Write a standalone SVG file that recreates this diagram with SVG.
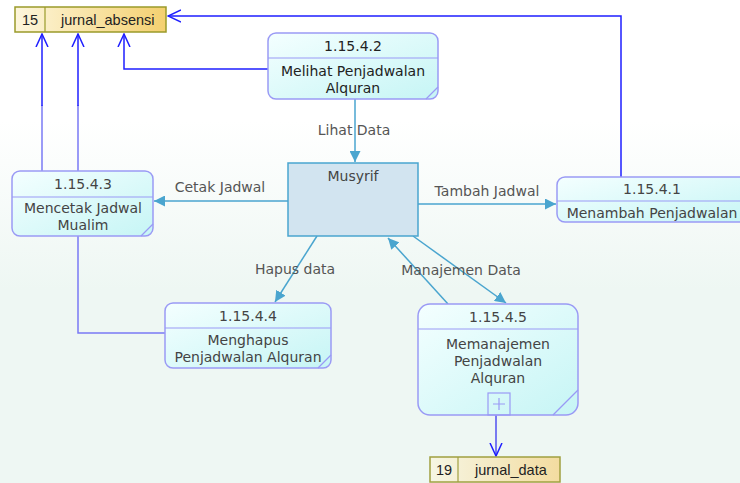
<svg xmlns="http://www.w3.org/2000/svg" width="740" height="483" viewBox="0 0 740 483">
<style>
.proc{fill:url(#pg);stroke:#9a9af5;stroke-width:1.5}
.div{stroke:#9a9af5;stroke-width:1.2}
.t{font-family:"DejaVu Sans",Verdana,sans-serif;font-size:14px;fill:#444;text-anchor:middle}
.lbl{font-family:"DejaVu Sans",Verdana,sans-serif;font-size:14px;fill:#555;text-anchor:middle}
.st{font-family:"Liberation Sans",Arial,sans-serif;font-size:14.5px;fill:#222}
.flow{stroke:#4aa5cf;stroke-width:1.5;fill:none;marker-end:url(#fa)}
.bf{stroke:#1f1fff;stroke-width:1.5;fill:none}
.bl{stroke:#7a7af5;stroke-width:1.5;fill:none}
</style>
<defs>
<linearGradient id="bg" x1="0" y1="0" x2="0" y2="1">
<stop offset="0" stop-color="#ffffff"/><stop offset="0.25" stop-color="#ffffff"/><stop offset="0.6" stop-color="#eef7f3"/><stop offset="1" stop-color="#eef7f3"/>
</linearGradient>
<linearGradient id="pg" x1="0" y1="0" x2="1" y2="1">
<stop offset="0" stop-color="#f4ffff"/><stop offset="1" stop-color="#c6f5f5"/>
</linearGradient>
<linearGradient id="sg" x1="0" y1="0" x2="1" y2="0">
<stop offset="0" stop-color="#fdf6dc"/><stop offset="1" stop-color="#f4d070"/>
</linearGradient>
<linearGradient id="sg2" x1="0" y1="0" x2="1" y2="0">
<stop offset="0" stop-color="#f6f6e4"/><stop offset="1" stop-color="#f3dca0"/>
</linearGradient>
<marker id="fa" viewBox="0 0 10 10" refX="10" refY="5" markerWidth="11" markerHeight="11" markerUnits="userSpaceOnUse" orient="auto">
<path d="M0,0 L10,5 L0,10 z" fill="#4aa5cf"/>
</marker>
<marker id="oa" viewBox="0 0 14 14" refX="13" refY="7" markerWidth="14" markerHeight="14" markerUnits="userSpaceOnUse" orient="auto">
<path d="M0,1 L13,7 L0,13" fill="none" stroke="#1f1fff" stroke-width="1.5"/>
</marker>
</defs>
<rect width="740" height="483" fill="url(#bg)"/>

<g id="connectors">
<polyline class="bf" points="621,177 621,16 168,16" marker-end="url(#oa)"/>
<polyline class="bf" points="268,69 124,69 124,34" marker-end="url(#oa)"/>
<line class="bl" x1="42" y1="171" x2="42" y2="105"/>
<line class="bf" x1="42" y1="106" x2="42" y2="34" marker-end="url(#oa)"/>
<polyline class="bl" points="165,333 78,333 78,105"/>
<line class="bf" x1="78" y1="106" x2="78" y2="34" marker-end="url(#oa)"/>
<line class="flow" x1="355" y1="99" x2="355" y2="162"/>
<line class="flow" x1="288" y1="201" x2="154" y2="201"/>
<line class="flow" x1="418" y1="204" x2="556" y2="204"/>
<line class="flow" x1="317" y1="236" x2="275" y2="302"/>
<line class="flow" x1="413" y1="236" x2="506" y2="303"/>
<line class="flow" x1="448" y1="304" x2="388" y2="238"/>
<line x1="496" y1="415" x2="496" y2="456" stroke="#5050f0" stroke-width="1.5" marker-end="url(#oa)"/>
<text class="lbl" x="354" y="135">Lihat Data</text>
<text class="lbl" x="220" y="192">Cetak Jadwal</text>
<text class="lbl" x="487" y="196">Tambah Jadwal</text>
<text class="lbl" x="295" y="274">Hapus data</text>
<text class="lbl" x="461" y="275">Manajemen Data</text>
</g>

<g id="store15">
<rect x="15" y="7" width="151" height="25" fill="url(#sg)" stroke="#9a9a2a" stroke-width="1.5"/>
<line x1="45" y1="7" x2="45" y2="32" stroke="#9a9a2a" stroke-width="1.2"/>
<text class="st" x="22" y="25">15</text>
<text class="st" x="61" y="25">jurnal_absensi</text>
</g>

<g id="p1_15_4_2">
<rect class="proc" x="268" y="33" width="170" height="66" rx="8"/>
<line class="div" x1="268" y1="58" x2="438" y2="58"/>
<line class="div" x1="426" y1="99" x2="438" y2="87"/>
<text class="t" x="353" y="51" style="fill:#222">1.15.4.2</text>
<text class="t" x="353" y="76" style="fill:#222">Melihat Penjadwalan</text>
<text class="t" x="353" y="93" style="fill:#222">Alquran</text>
</g>

<g id="musyrif">
<rect x="288" y="163" width="130" height="73" fill="#d2e4f0" stroke="#4aa5cf" stroke-width="1.5"/>
<text class="t" x="353" y="181">Musyrif</text>
</g>

<g id="p1_15_4_3">
<rect class="proc" x="12" y="171" width="141" height="65" rx="8"/>
<line class="div" x1="12" y1="197" x2="153" y2="197"/>
<line class="div" x1="141" y1="236" x2="153" y2="224"/>
<text class="t" x="83" y="189">1.15.4.3</text>
<text class="t" x="83" y="213">Mencetak Jadwal</text>
<text class="t" x="83" y="230">Mualim</text>
</g>

<g id="p1_15_4_1">
<rect class="proc" x="557" y="177" width="190" height="45" rx="8"/>
<line class="div" x1="557" y1="201" x2="740" y2="201"/>
<text class="t" x="652" y="194">1.15.4.1</text>
<text class="t" x="652" y="218">Menambah Penjadwalan</text>
</g>

<g id="p1_15_4_4">
<rect class="proc" x="165" y="303" width="166" height="65" rx="8"/>
<line class="div" x1="165" y1="328" x2="331" y2="328"/>
<line class="div" x1="318" y1="368" x2="331" y2="355"/>
<text class="t" x="248" y="321">1.15.4.4</text>
<text class="t" x="248" y="345">Menghapus</text>
<text class="t" x="248" y="362">Penjadwalan Alquran</text>
</g>

<g id="p1_15_4_5">
<rect class="proc" x="418" y="304" width="160" height="111" rx="12"/>
<line class="div" x1="418" y1="329" x2="578" y2="329"/>
<line class="div" x1="553" y1="415" x2="578" y2="390"/>
<rect x="488" y="393" width="22" height="22" fill="none" stroke="#9a9af5" stroke-width="1.2"/>
<path d="M493,404 H505 M499,398 V410" stroke="#9a9af5" stroke-width="1.2"/>
<text class="t" x="498" y="322">1.15.4.5</text>
<text class="t" x="498" y="349">Memanajemen</text>
<text class="t" x="498" y="366">Penjadwalan</text>
<text class="t" x="498" y="383">Alquran</text>
</g>

<g id="store19">
<rect x="430" y="457" width="130" height="25" fill="url(#sg2)" stroke="#a0a040" stroke-width="1.5"/>
<line x1="458" y1="457" x2="458" y2="482" stroke="#a0a040" stroke-width="1.2"/>
<text class="st" x="436" y="475">19</text>
<text class="st" x="475" y="475">jurnal_data</text>
</g>
</svg>
